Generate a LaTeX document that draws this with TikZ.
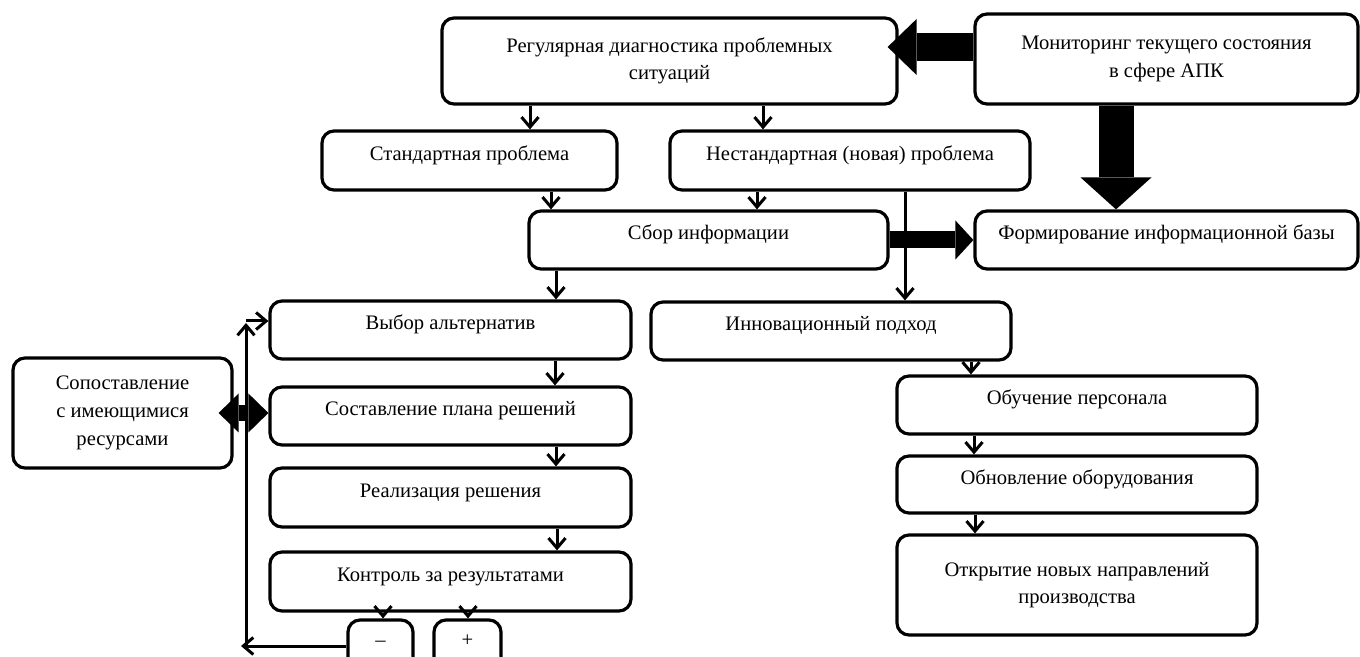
\documentclass[tikz,border=0pt]{standalone}
\usepackage{fontspec}
\setmainfont{Liberation Serif}
\usetikzlibrary{arrows.meta}
\tikzset{
    box/.style={draw=black, line width=1.6pt, rounded corners=6pt, align=center, inner sep=2pt,
        font=\fontsize{10.3pt}{13.8pt}\selectfont, text height=1.6ex, text depth=1.6ex},
    multi/.style={box, text height=, text depth=},
    arr/.style={line width=1.5pt, -{Straight Barb[length=5pt, width=8.5pt]}},
    fat/.style n args={3}{line width=#1, -{Triangle[width=#2, length=#3, line width=0pt]}},
    fatboth/.style n args={3}{line width=#1, {Triangle[width=#2, length=#3, line width=0pt]}-{Triangle[width=#2, length=#3, line width=0pt]}}
}

\begin{document}
\begin{tikzpicture}[x=0.5pt, y=-0.5pt]
    \useasboundingbox (0,0) rectangle (1360,657);
    \clip (0,0) rectangle (1360,657);

    \node[multi, minimum width=227.5pt, minimum height=43pt] (diag) at (669.5,61) {Регулярная диагностика проблемных\\ситуаций};
    \node[multi, minimum width=191.5pt, minimum height=45pt] (mon) at (1166.5,59) {Мониторинг текущего состояния\\в сфере АПК};
    \node[box, minimum width=147.5pt, minimum height=29.5pt] (std) at (469.5,160.5) {Стандартная проблема};
    \node[box, minimum width=180pt, minimum height=29.5pt] (nstd) at (850,160.5) {Нестандартная (новая) проблема};
    \node[box, minimum width=179.5pt, minimum height=29pt] (sbor) at (708.5,240) {Сбор информации};
    \node[box, minimum width=191.5pt, minimum height=29pt] (form) at (1166.5,240) {Формирование информационной базы};
    \node[box, minimum width=180.5pt, minimum height=29pt] (vybor) at (450.5,330) {Выбор альтернатив};
    \node[box, minimum width=180pt, minimum height=29pt] (innov) at (831,331) {Инновационный подход};
    \node[multi, minimum width=109.5pt, minimum height=55pt] (sopost) at (122.5,413) {Сопоставление\\с имеющимися\\ресурсами};
    \node[box, minimum width=180.5pt, minimum height=29pt] (plan) at (450.5,416) {Составление плана решений};
    \node[box, minimum width=180.5pt, minimum height=29.5pt] (real) at (450.5,497.5) {Реализация решения};
    \node[box, minimum width=180.5pt, minimum height=29.5pt] (ctrl) at (450.5,581.5) {Контроль за результатами};
    \node[box, minimum width=32.5pt, minimum height=26pt] (minus) at (380.5,646) {–};
    \node[box, minimum width=33.5pt, minimum height=26pt] (plus) at (467.5,646) {+};
    \node[box, minimum width=180pt, minimum height=29pt] (obuch) at (1077,405) {Обучение персонала};
    \node[box, minimum width=180pt, minimum height=28.5pt] (obnov) at (1077,484.5) {Обновление оборудования};
    \node[multi, minimum width=180pt, minimum height=50pt] (otkr) at (1077,585) {Открытие новых направлений\\производства};

    \draw[arr] (diag.south -| 530,0) -- (std.north -| 530,0);
    \draw[arr] (diag.south -| 763,0) -- (nstd.north -| 763,0);
    \draw[arr] (std.south -| 551,0) -- (sbor.north -| 551,0);
    \draw[arr] (nstd.south -| 757,0) -- (sbor.north -| 757,0);
    \draw[arr] (nstd.south -| 905,0) -- (innov.north -| 905,0);
    \draw[arr] (sbor.south -| 556,0) -- (vybor.north -| 556,0);
    \draw[arr] (vybor.south -| 555,0) -- (plan.north -| 555,0);
    \draw[arr] (plan.south -| 556,0) -- (real.north -| 556,0);
    \draw[arr] (real.south -| 557,0) -- (ctrl.north -| 557,0);
    \draw[arr] (ctrl.south -| 383,0) -- (minus.north -| 383,0);
    \draw[arr] (ctrl.south -| 468,0) -- (plus.north -| 468,0);
    \draw[arr] (innov.south -| 971,0) -- (obuch.north -| 971,0);
    \draw[arr] (obuch.south -| 974,0) -- (obnov.north -| 974,0);
    \draw[arr] (obnov.south -| 975,0) -- (otkr.north -| 975,0);

    \coordinate (fbl) at (241,646);
    \coordinate (fbb) at (246,648);
    \coordinate (fbt) at (246,323);
    \draw[arr] (minus.west) -- (fbl);
    \draw[arr] (fbb) -- (fbt);
    \draw[arr] (fbt |- 0,321) -- (vybor.west |- 0,321);

    \draw[fat={14pt}{28pt}{14.5pt}] ([yshift=6pt]mon.west) -- ([xshift=-5.5pt, yshift=7pt]diag.east);
    \draw[fat={17.5pt}{35.5pt}{16pt}] ([xshift=-25.25pt]mon.south) -- ([xshift=-25.25pt]form.north);
    \draw[fat={8.5pt}{19.5pt}{9pt}] (sbor.east) -- (form.west);
    \draw[fatboth={8pt}{19.5pt}{10pt}] ([xshift=-7.5pt]sopost.east) -- ([yshift=1.5pt]plan.west);
\end{tikzpicture}
\end{document}
